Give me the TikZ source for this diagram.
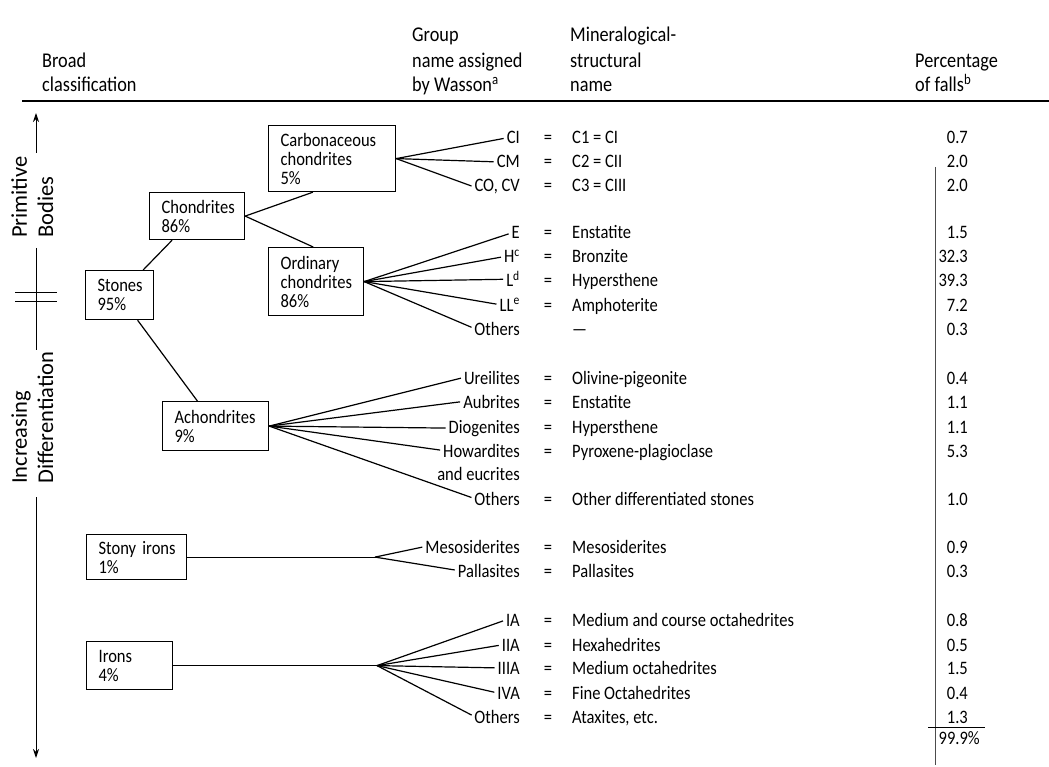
\documentclass[tikz,border=0pt]{standalone}
\usepackage{fontspec}
\setmainfont{Carlito}[FakeStretch=0.87]
\newfontfamily\axfont{Carlito}
\usetikzlibrary{calc,arrows.meta}
\begin{document}
\begin{tikzpicture}[x=1pt,y=-1pt,
  every node/.style={font=\fontsize{19}{19}\selectfont, inner sep=0pt},
  box/.style={draw, line width=1.2pt, anchor=north west, align=left, inner xsep=12pt, inner ysep=0pt},
  grp/.style={anchor=base east},
  eqs/.style={anchor=base},
  mn/.style={anchor=base west},
  pc/.style={anchor=base east},
  hd/.style={anchor=base west, font=\fontsize{21}{21}\selectfont},
  ax/.style={rotate=90, anchor=base west, font=\axfont\fontsize{22.5}{23}\selectfont},
  link/.style={line width=1.2pt},
  fan/.style={line width=1.2pt, shorten >=3pt},
  tip/.style={line width=1pt, -{Stealth[length=9pt,width=6pt]}}
]
\useasboundingbox (0,0) rectangle (1049,767);

% header
\node[hd] (h1a) at (42,68) {Broad};
\node[hd] (h1b) at (42,92) {classification};
\node[hd] (h2a) at (412,42) {Group};
\node[hd] (h2b) at (412,68) {name assigned};
\node[hd] (h2c) at (412,92) {by Wasson\textsuperscript{a}};
\node[hd] (h3a) at (570,42) {Mineralogical-};
\node[hd] (h3b) at (570,68) {structural};
\node[hd] (h3c) at (570,92) {name};
\node[hd] (h4a) at (915,68) {Percentage};
\node[hd] (h4b) at (915,92) {of falls\textsuperscript{b}};
\coordinate (rl) at (22,101);
\coordinate (rr) at (1049,101);
\draw[line width=1.8pt] (rl) -- (rr);

% left axis
\coordinate (a1) at (36,153); \coordinate (a0) at (36,113);
\coordinate (a2) at (36,248); \coordinate (a3) at (36,350);
\coordinate (a4) at (36,497); \coordinate (a5) at (36,758);
\draw[tip] (a1) -- (a0);
\draw[line width=1pt] (a2) -- (a3);
\draw[tip] (a4) -- (a5);
\coordinate (b1) at (15,292); \coordinate (b2) at (57,292);
\coordinate (b3) at (15,301); \coordinate (b4) at (57,301);
\draw[line width=1pt] (b1) -- (b2) (b3) -- (b4);
\node[ax] (prim) at (27,238) {Primitive};
\node[ax] (bod) at (53,238) {Bodies};
\node[ax] (incr) at (27,484) {Increasing};
\node[ax] (diff) at (53,484) {Differentiation};

% boxes
\node[box, text width=103pt, minimum height=66pt] (carb) at (268,125) {Carbonaceous\\chondrites\\5\%};
\node[box, text width=71pt, minimum height=47pt] (chond) at (149,192) {Chondrites\\86\%};
\node[box, text width=71pt, minimum height=68pt] (ord) at (268,247) {Ordinary\\chondrites\\86\%};
\node[box, text width=44pt, minimum height=49pt] (stones) at (85,270) {Stones\\95\%};
\node[box, text width=82pt, minimum height=49pt] (achond) at (162,401) {Achondrites\\9\%};
\node[box, text width=76pt, minimum height=45pt] (stony) at (86,534) {Stony~irons\\1\%};
\node[box, text width=62pt, minimum height=48pt] (irons) at (86,641) {Irons\\4\%};

% box connectors
\draw[link] ($(stones.north west)!0.84!(stones.north east)$) -- ($(chond.south west)!0.24!(chond.south east)$);
\draw[link] ($(stones.south west)!0.76!(stones.south east)$) -- ($(achond.north west)!0.33!(achond.north east)$);
\draw[link] (chond.east) -- ($(carb.south west)!0.35!(carb.south east)$);
\draw[link] (chond.east) -- ($(ord.north west)!0.47!(ord.north east)$);

% rows: group, =, mineral, percentage
\newcommand{\rowX}[5]{%
  \node[grp] (g#1) at (520,#2) {#3};
  \node[eqs] (e#1) at (548,#2) {=};
  \node[mn] (m#1) at (572,#2) {#4};
  \node[pc] (p#1) at (968,#2) {#5};}

\rowX{1}{144}{CI}{C1 = CI}{0.7}
\rowX{2}{168}{CM}{C2 = CII}{2.0}
\rowX{3}{192}{CO, CV}{C3 = CIII}{2.0}
\rowX{4}{239}{E}{Enstatite}{1.5}
\rowX{5}{263}{H\textsuperscript{c}}{Bronzite}{32.3}
\rowX{6}{287}{L\textsuperscript{d}}{Hypersthene}{39.3}
\rowX{7}{311}{LL\textsuperscript{e}}{Amphoterite}{7.2}
\node[grp] (g8) at (520,335) {Others};
\node[mn] (m8) at (572,335) {---};
\node[pc] (p8) at (968,335) {0.3};
\rowX{9}{384}{Ureilites}{Olivine-pigeonite}{0.4}
\rowX{10}{408}{Aubrites}{Enstatite}{1.1}
\rowX{11}{433}{Diogenites}{Hypersthene}{1.1}
\rowX{12}{457}{Howardites}{Pyroxene-plagioclase}{5.3}
\node[grp] (g12b) at (520,480) {and eucrites};
\rowX{13}{505}{Others}{Other differentiated stones}{1.0}
\rowX{14}{553}{Mesosiderites}{Mesosiderites}{0.9}
\rowX{15}{577}{Pallasites}{Pallasites}{0.3}
\rowX{16}{626}{IA}{Medium and course octahedrites}{0.8}
\rowX{17}{651}{IIA}{Hexahedrites}{0.5}
\rowX{18}{674}{IIIA}{Medium octahedrites}{1.5}
\rowX{19}{699}{IVA}{Fine Octahedrites}{0.4}
\rowX{20}{723}{Others}{Ataxites, etc.}{1.3}
\node[pc] (tot) at (980,744) {99.9\%};

% fans
\foreach \i in {1,2,3} \draw[fan] (carb.east) -- (g\i.west);
\foreach \i in {4,5,6,7,8} \draw[fan] (ord.east) -- (g\i.west);
\foreach \i in {9,10,11,12,13} \draw[fan] (achond.east) -- (g\i.west);
\coordinate (sjx) at (375,0);
\coordinate (sj) at (stony.east -| sjx);
\draw[link] (stony.east) -- (sj);
\foreach \i in {14,15} \draw[fan] (sj) -- (g\i.west);
\coordinate (ijx) at (377,0);
\coordinate (ij) at (irons.east -| ijx);
\draw[link] (irons.east) -- (ij);
\foreach \i in {16,17,18,19,20} \draw[fan] (ij) -- (g\i.west);

% percentage column
\coordinate (v1) at (935,167); \coordinate (v2) at (935,765);
\draw[line width=0.6pt, black!70] (v1) -- (v2);
\coordinate (u1) at (928,727); \coordinate (u2) at (985,727);
\draw[line width=1pt] (u1) -- (u2);
\end{tikzpicture}
\end{document}
